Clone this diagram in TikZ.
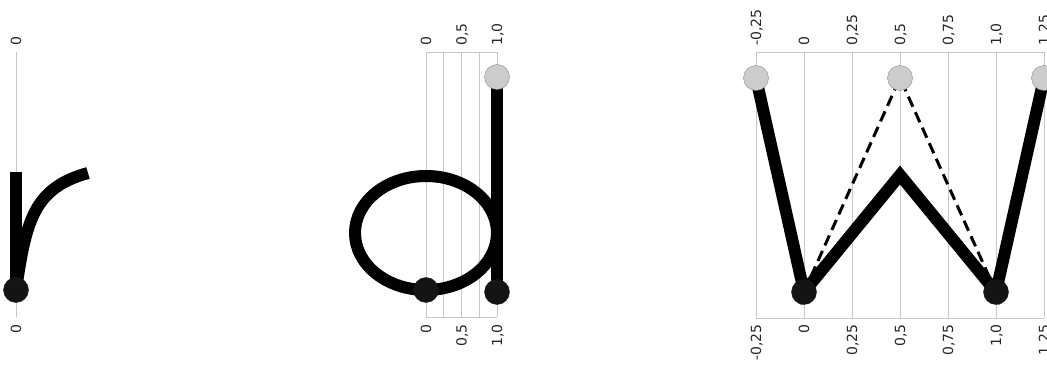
\documentclass[tikz,border=0pt]{standalone}
\usepackage{fontspec}
\newfontfamily\ticksfont{DejaVu Sans}

\begin{document}
\begin{tikzpicture}[x=1pt, y=-1pt,
    grid/.style = {draw=black!22, line width=0.9pt},
    stroke/.style = {line width=12pt},
    guide/.style = {line width=3pt, dash pattern=on 11pt off 6pt},
    enddot/.style = {draw=black!90, fill=black!92, circle, inner sep=0pt, minimum size=25pt},
    startdot/.style = {draw=black!45, fill=black!20, circle, inner sep=0pt, minimum size=25pt},
    tick/.style = {rotate=90, inner sep=0pt, text height=10pt, text depth=0pt, text=black!85,
                   font=\ticksfont\fontsize{14}{14}\selectfont},
    toptick/.style = {tick, anchor=west},
    bottick/.style = {tick, anchor=east}]
        \useasboundingbox (0,0) rectangle (1047,366);

        % letter r
        \draw[grid] (16,52) -- (16,317);
        \node[toptick] (rt) at (16,46) {0};
        \node[bottick] (rb) at (16,324) {0};
        \coordinate (rtop) at (16,172);
        \coordinate (rstart) at (16,290);
        \coordinate (rend) at (88,173);
        \draw[stroke] (rtop) -- (rstart);
        \draw[stroke] (rstart) .. controls (26,220) and (34,188) .. (rend);
        \node[enddot] (rdot) at (rstart) {};

        % letter d
        \foreach \v in {0,0.25,0.5,0.75,1}
          \draw[grid] ({426+71*\v},52) -- ({426+71*\v},317);
        \draw[grid] (426,52) -- (497,52);
        \draw[grid] (426,317) -- (497,317);
        \foreach \v/\t [count=\i] in {0/0, 0.5/{0,5}, 1/{1,0}} {
          \node[toptick] (dt\i) at ({426+71*\v},46) {\t};
          \node[bottick] (db\i) at ({426+71*\v},324) {\t};
        }
        \coordinate (dmid) at (426,233);
        \coordinate (dloop) at (426,290);
        \coordinate (dtop) at (497,77);
        \coordinate (dbot) at (497,292);
        \draw[stroke] (dmid) ellipse [x radius=71pt, y radius=57pt];
        \draw[stroke] (dtop) -- (dbot);
        \node[enddot] (d1) at (dloop) {};
        \node[startdot] (d2) at (dtop) {};
        \node[enddot] (d3) at (dbot) {};

        % letter w
        \foreach \v/\t [count=\i] in {-0.25/{-0,25}, 0/0, 0.25/{0,25}, 0.5/{0,5}, 0.75/{0,75}, 1/{1,0}, 1.25/{1,25}} {
          \draw[grid] ({804+192*\v},52) -- ({804+192*\v},318);
          \node[toptick] (wt\i) at ({804+192*\v},46) {\t};
          \node[bottick] (wb\i) at ({804+192*\v},324) {\t};
        }
        \draw[grid] (756,52) -- (1044,52);
        \draw[grid] (756,318) -- (1044,318);
        \coordinate (wa) at (756,78);
        \coordinate (wb) at (804,292);
        \coordinate (wc) at (900,78);
        \coordinate (wpeak) at (900,175);
        \coordinate (wd) at (996,292);
        \coordinate (we) at (1044,78);
        \draw[guide] (wb) -- (wc) -- (wd);
        \draw[stroke] (wa) -- (wb) -- (wpeak) -- (wd) -- (we);
        \node[startdot] (w1) at (wa) {};
        \node[enddot] (w2) at (wb) {};
        \node[startdot] (w3) at (wc) {};
        \node[enddot] (w4) at (wd) {};
        \node[startdot] (w5) at (we) {};
\end{tikzpicture}
\end{document}
